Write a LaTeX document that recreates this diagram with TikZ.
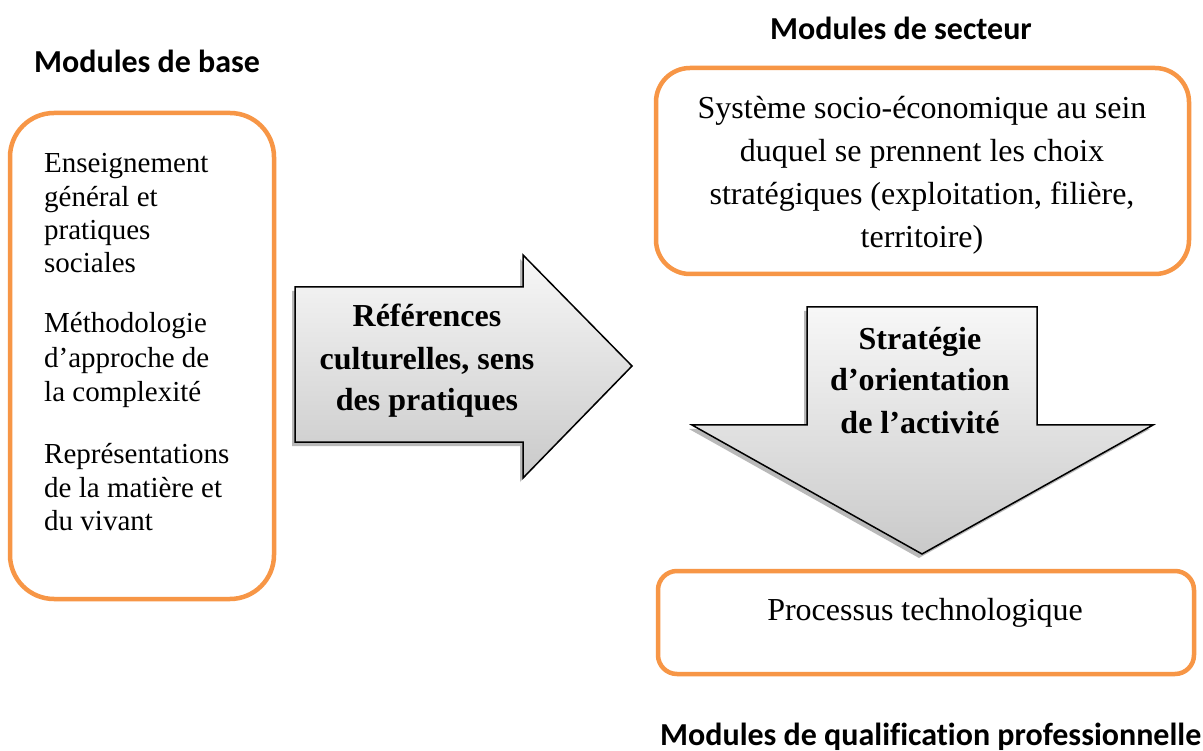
\documentclass[tikz,border=0pt]{standalone}
\usepackage{fontspec}
\setmainfont{Liberation Serif}
\newfontfamily\hdfont{Carlito}[Ligatures=NoCommon]
\definecolor{orng}{HTML}{F79646}
\begin{document}
\begin{tikzpicture}[x=1pt,y=-1pt,
  obox/.style={draw=orng, line width=4.5pt, rounded corners=#1, rectangle, inner sep=0pt},
  lt/.style={font=\fontsize{29}{34}\selectfont, inner sep=0pt, anchor=base west},
  rt/.style={font=\fontsize{32}{43}\selectfont, inner sep=0pt, anchor=base},
  arrtxt/.style={font=\fontsize{32}{41}\selectfont\bfseries, inner sep=0pt, anchor=base},
  hd/.style={font=\hdfont\bfseries\fontsize{32}{38}\selectfont, inner sep=0pt},
  arr/.style={draw=black, line width=1.5pt, top color=gray!6, bottom color=gray!42},
  shd/.style={fill=gray!55}]
\useasboundingbox (0,0) rectangle (1203,751);
\fill[white] (0,0) rectangle (1203,751);

% headings
\node[hd, anchor=base west] (hbase) at (34,73) {Modules de base};
\node[hd, anchor=base] (hsect) at (901,40) {Modules de secteur};
\node[hd, anchor=base west] (hqual) at (660,745) {Modules de qualification professionnelle};

% boxes
\node[obox=44pt, minimum width=264pt, minimum height=486pt] (base) at (142,356) {};
\node[obox=34pt, minimum width=533pt, minimum height=206pt] (sect) at (922.5,171) {};
\node[obox=19pt, minimum width=536pt, minimum height=103pt] (proc) at (926,622.5) {};

% left box text
\node[lt] (l1) at (44,173) {Enseignement};
\node[lt] (l2) at (44,207) {général et};
\node[lt] (l3) at (44,240) {pratiques};
\node[lt] (l4) at (44,273) {sociales};
\node[lt] (l5) at (44,333) {Méthodologie};
\node[lt] (l6) at (44,368) {d’approche de};
\node[lt] (l7) at (44,402) {la complexité};
\node[lt] (l8) at (44,463) {Représentations};
\node[lt] (l9) at (44,497) {de la matière et};
\node[lt] (l10) at (44,530) {du vivant};

% top box text
\node[rt] (s1) at (922,119) {Système socio-économique au sein};
\node[rt] (s2) at (922,162) {duquel se prennent les choix};
\node[rt] (s3) at (922,205) {stratégiques (exploitation, filière,};
\node[rt] (s4) at (922,248) {territoire)};

% bottom box text
\node[rt] (p1) at (925,620) {Processus technologique};

% right arrow
\fill[shd] (292,291) -- (520,291) -- (520,259) -- (629,370) -- (520,482) -- (520,446) -- (292,446) -- cycle;
\path[arr] (295,287) -- (523,287) -- (523,255) -- (632,366) -- (523,478) -- (523,442) -- (295,442) -- cycle;
\node[arrtxt] (r1) at (427,327) {Références};
\node[arrtxt] (r2) at (427,370) {culturelles, sens};
\node[arrtxt] (r3) at (427,410) {des pratiques};

% down arrow
\fill[shd] (804,311) -- (1034,311) -- (1034,429) -- (1150,429) -- (919,558) -- (689,429) -- (804,429) -- cycle;
\path[arr] (807,307) -- (1037,307) -- (1037,425) -- (1153,425) -- (922,554) -- (692,425) -- (807,425) -- cycle;
\node[arrtxt] (d1) at (920,350) {Stratégie};
\node[arrtxt] (d2) at (920,391) {d’orientation};
\node[arrtxt] (d3) at (920,433) {de l’activité};
\end{tikzpicture}
\end{document}
